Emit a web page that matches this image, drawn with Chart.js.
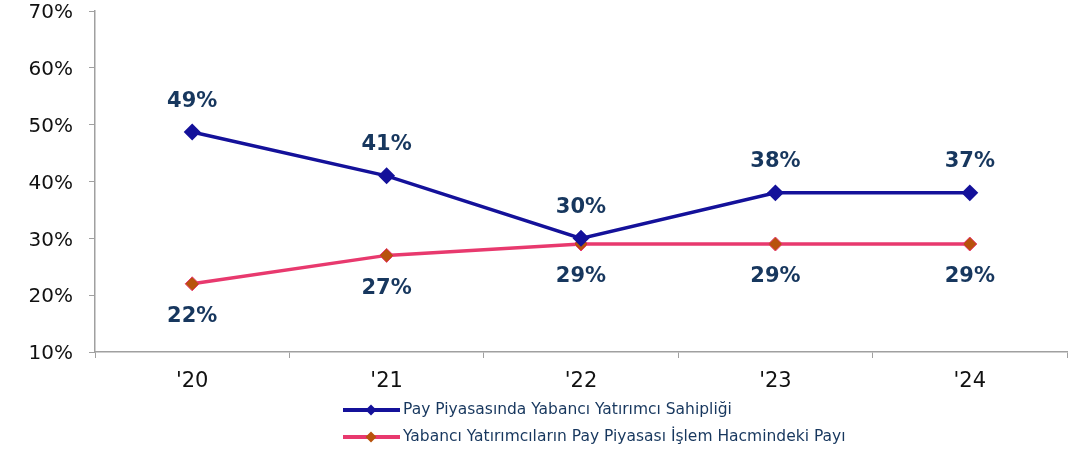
<!DOCTYPE html>
<html>
<head>
<meta charset="utf-8">
<script src="https://cdn.jsdelivr.net/npm/chart.js@4/dist/chart.umd.min.js"></script>
<style>
  html, body { margin: 0; padding: 0; background: #fff; }
  #wrap { width: 1089px; height: 452px; position: relative; }
</style>
</head>
<body>
<div id="wrap"><canvas id="chart" width="1089" height="452"></canvas></div>
<script>
// values
const years = ["'20", "'21", "'22", "'23", "'24"];
const ownership = [48.7, 41, 30, 38, 38];
const ownershipLabels = ["49%", "41%", "30%", "38%", "37%"];
const tradeShare = [22, 27, 29, 29, 29];
const tradeShareLabels = ["22%", "27%", "29%", "29%", "29%"];
const seriesNames = [
  "Pay Piyasasında Yabancı Yatırımcı Sahipliği",
  "Yabancı Yatırımcıların Pay Piyasası İşlem Hacmindeki Payı",
];

const FONT = "'DejaVu Sans', Verdana, sans-serif";
const labelColor = "#17375e";
const axisColor = "#a0a0a0";

// draws the % labels above / below each point
const pointLabels = {
  id: "pointLabels",
  afterDatasetsDraw(chart) {
    const ctx = chart.ctx;
    ctx.save();
    ctx.font = "bold 21px " + FONT;
    ctx.fillStyle = labelColor;
    ctx.textAlign = "center";
    ctx.textBaseline = "middle";
    chart.data.datasets.forEach((ds, i) => {
      const meta = chart.getDatasetMeta(i);
      meta.data.forEach((pt, j) => {
        ctx.fillText(ds.valueLabels[j], pt.x, pt.y + ds.labelOffset);
      });
    });
    ctx.restore();
  },
};

// stacked legend under the axis, like the original
const stackedLegend = {
  id: "stackedLegend",
  afterDraw(chart) {
    const ctx = chart.ctx;
    ctx.save();
    chart.data.datasets.forEach((ds, i) => {
      const y = 410 + i * 27;
      ctx.strokeStyle = ds.borderColor;
      ctx.lineWidth = 4;
      ctx.beginPath();
      ctx.moveTo(343, y);
      ctx.lineTo(400, y);
      ctx.stroke();
      ctx.fillStyle = ds.pointBackgroundColor;
      ctx.beginPath();
      ctx.moveTo(371, y - 5.5);
      ctx.lineTo(376.5, y);
      ctx.lineTo(371, y + 5.5);
      ctx.lineTo(365.5, y);
      ctx.closePath();
      ctx.fill();
      ctx.font = "15.5px " + FONT;
      ctx.fillStyle = labelColor;
      ctx.textAlign = "left";
      ctx.textBaseline = "middle";
      ctx.fillText(ds.label, 403, y);
    });
    ctx.restore();
  },
};

new Chart(document.getElementById("chart"), {
  type: "line",
  data: {
    labels: years,
    datasets: [
      {
        label: seriesNames[0],
        data: ownership,
        valueLabels: ownershipLabels,
        labelOffset: -31,
        borderColor: "#14119a",
        backgroundColor: "#14119a",
        pointBackgroundColor: "#14119a",
        pointBorderColor: "#14119a",
        borderWidth: 3.5,
        pointStyle: "rectRot",
        pointRadius: 6,
        tension: 0,
      },
      {
        label: seriesNames[1],
        data: tradeShare,
        valueLabels: tradeShareLabels,
        labelOffset: 33,
        borderColor: "#e8396e",
        backgroundColor: "#e8396e",
        pointBackgroundColor: "#b8520c",
        pointBorderColor: "#e8396e",
        pointBorderWidth: 1,
        borderWidth: 3.5,
        pointStyle: "rectRot",
        pointRadius: 7,
        tension: 0,
      },
    ],
  },
  options: {
    responsive: false,
    animation: false,
    layout: { padding: { top: 11, right: 22, left: 0, bottom: 0 } },
    plugins: {
      legend: { display: false },
      tooltip: { enabled: false },
    },
    scales: {
      x: {
        offset: true,
        grid: { offset: true, drawOnChartArea: false, drawTicks: true, tickLength: 6, color: axisColor },
        border: { color: axisColor, width: 1.5 },
        ticks: { color: "#111", font: { family: FONT, size: 21 }, padding: 11 },
        afterFit: (s) => { s.height = 100; },
      },
      y: {
        min: 10,
        max: 70,
        grid: { drawOnChartArea: false, drawTicks: true, tickLength: 6, color: axisColor },
        border: { color: axisColor, width: 1.5 },
        ticks: {
          stepSize: 10,
          color: "#111",
          font: { family: FONT, size: 20 },
          padding: 16,
          labelOffset: 2,
          callback: (v) => v + "%",
        },
        afterFit: (s) => {
          s.width = 95;
          s.paddingTop = 0;
          s.paddingBottom = 0;
        },
      },
    },
  },
  plugins: [pointLabels, stackedLegend],
});
</script>
</body>
</html>
